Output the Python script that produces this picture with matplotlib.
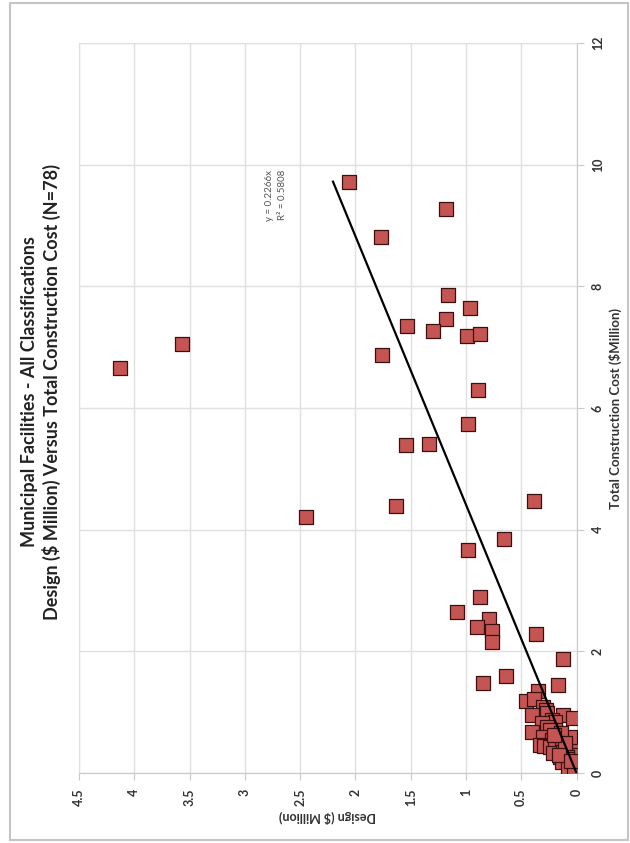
import matplotlib.pyplot as plt
import numpy as np
from matplotlib.patches import Rectangle

plt.rcParams["font.family"] = ["Lato", "DejaVu Sans"]

cost = [
    9.72, 9.27, 8.81, 7.86, 7.65, 7.47, 7.35, 7.27, 7.18, 7.21, 7.06, 6.87,
    6.66, 6.29, 5.73, 5.40, 5.41, 4.39, 4.21, 4.47, 3.85, 3.66, 2.90,
    2.65, 2.53, 2.40, 2.34, 2.16, 2.28, 1.87, 1.60, 1.48, 1.45, 1.35, 1.18,
    1.21, 1.09, 1.04, 0.95, 0.98, 0.95, 0.90, 0.87, 0.84, 0.82, 0.76, 0.71,
    0.67, 0.71, 0.59, 0.57, 0.55, 0.54, 0.46, 0.45, 0.43, 0.41, 0.41, 0.43,
    0.38, 0.33, 0.35, 0.30, 0.26, 0.26, 0.23, 0.18, 0.16, 0.12, 0.08, 0.08,
    0.05, 0.60, 0.65, 0.50, 0.30, 0.20, 0.62,
]
design = [
    2.06, 1.18, 1.77, 1.16, 0.96, 1.18, 1.53, 1.30, 0.99, 0.87, 3.57, 1.76,
    4.13, 0.89, 0.98, 1.54, 1.33, 1.63, 2.45, 0.38, 0.66, 0.98, 0.87,
    1.08, 0.79, 0.90, 0.76, 0.76, 0.37, 0.12, 0.64, 0.85, 0.17, 0.35, 0.46,
    0.38, 0.30, 0.28, 0.40, 0.27, 0.12, 0.03, 0.22, 0.19, 0.31, 0.27, 0.19,
    0.40, 0.24, 0.30, 0.06, 0.22, 0.18, 0.33, 0.29, 0.24, 0.19, 0.13, 0.04,
    0.04, 0.21, 0.12, 0.00, 0.09, 0.15, 0.09, 0.13, 0.04, 0.07, 0.01, 0.08,
    0.02, 0.06, 0.14, 0.10, 0.16, 0.05, 0.20,
]
slope = 0.2266
r2 = 0.5808

cost_ticks = [0, 2, 4, 6, 8, 10, 12]
design_ticks = [0, 0.5, 1, 1.5, 2, 2.5, 3, 3.5, 4, 4.5]
design_labels = ["0", "0.5", "1", "1.5", "2", "2.5", "3", "3.5", "4", "4.5"]

fig = plt.figure(figsize=(6.3, 8.43), dpi=100)
# page frame
fig.patches.append(Rectangle((10 / 630, 3 / 843), 618 / 630, 837 / 843,
                             transform=fig.transFigure, fill=False,
                             edgecolor="#c4c4c4", linewidth=1.5))

# chart is drawn turned a quarter turn: design runs right-to-left, cost upward
ax = fig.add_axes([79 / 630, 1 - 773 / 843, 497.5 / 630, 730 / 843])
ax.scatter(design, cost, marker="s", s=95, color="#c55553",
           edgecolors="#3a1010", linewidths=0.9, zorder=3)

xs = np.array([0, max(cost)])
ax.plot(slope * xs, xs, color="black", linewidth=1.6, zorder=4)
ax.text(2.72, 9.5, f"y = {slope}x\nR² = {r2}", rotation=90, ha="center",
        va="center", fontsize=7, color="#555555", linespacing=1.5)

ax.set_xlim(4.5, 0)
ax.set_ylim(0, 12)
ax.set_xticks(design_ticks)
ax.set_xticklabels(design_labels, rotation=90, fontsize=9, fontweight="bold",
                   color="#333333")
ax.set_yticks(cost_ticks)
ax.set_yticklabels([str(t) for t in cost_ticks], rotation=90, fontsize=9,
                   fontweight="bold", color="#333333", va="center")
ax.yaxis.tick_right()
ax.yaxis.set_label_position("right")
ax.tick_params(axis="both", length=5, color="#c8c8c8", pad=6)
ax.grid(color="#e0e0e0", linewidth=1)
ax.set_axisbelow(True)
for side in ["top", "left"]:
    ax.spines[side].set_color("#e0e0e0")
for side in ["bottom", "right"]:
    ax.spines[side].set_color("#c8c8c8")

ax.set_xlabel("Design ($ Million)", rotation=180, fontsize=9,
              fontweight="bold", color="#333333", labelpad=3)
ax.set_ylabel("Total Construction Cost ($Million)", rotation=90, fontsize=9.5,
              fontweight="bold", color="#333333", labelpad=4)

fig.text(41 / 630, 1 - 392 / 843,
         "Municipal Facilities - All Classifications\n"
         "Design ($ Million) Versus Total Construction Cost (N=78)",
         rotation=90, ha="center", va="center", fontsize=13,
         fontweight="bold", color="#222222", linespacing=1.2)

fig.savefig("out.png", dpi=100)
